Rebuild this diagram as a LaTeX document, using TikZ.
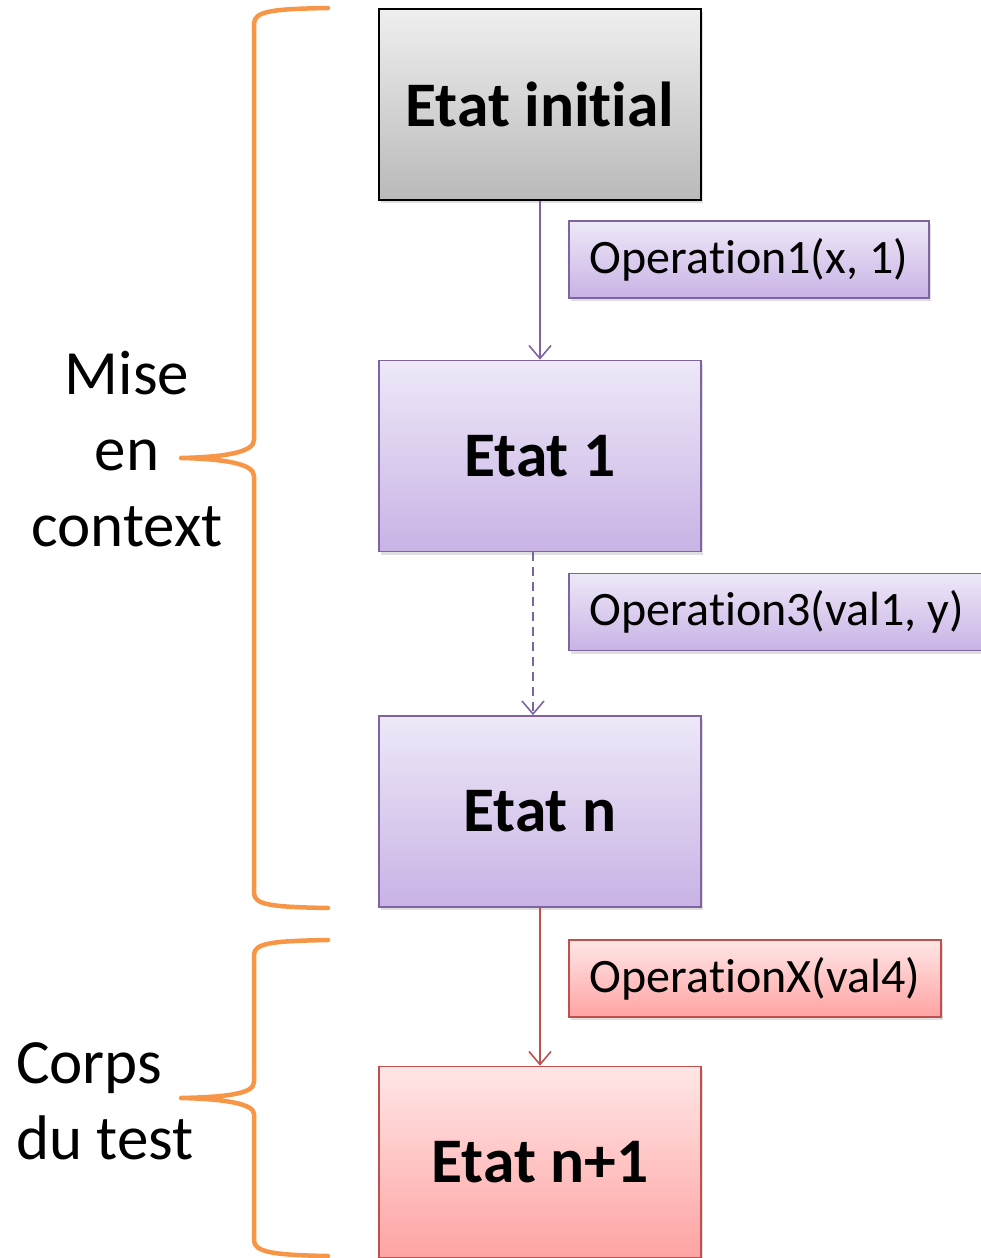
\documentclass[tikz,border=0pt]{standalone}
\usepackage{fontspec}
\setmainfont{Carlito}[Ligatures={NoCommon,NoContextual,NoRare},Contextuals={NoAlternate}]
\usetikzlibrary{arrows.meta,shadows}
\definecolor{purpline}{HTML}{8064A2}
\definecolor{purptop}{HTML}{EEE8F8}
\definecolor{purpbot}{HTML}{C8B3E5}
\definecolor{redline}{HTML}{C0504D}
\definecolor{redtop}{HTML}{FFE6E6}
\definecolor{redbot}{HTML}{FFA3A3}
\definecolor{graytop}{HTML}{EFEFEF}
\definecolor{graybot}{HTML}{B9B9B9}
\definecolor{bracecol}{HTML}{F79646}
\tikzset{
  statebox/.style={draw, line width=1.6pt, minimum width=322pt, minimum height=191pt,
    inner sep=0pt, font=\fontsize{63.5}{74}\selectfont\bfseries,
    drop shadow={shadow xshift=2pt, shadow yshift=-3pt, opacity=0.25}},
  opbox/.style={draw, line width=1.6pt, minimum height=77pt, inner xsep=21pt, inner ysep=0pt,
    anchor=west, font=\fontsize{48}{57}\selectfont,
    drop shadow={shadow xshift=2pt, shadow yshift=-3pt, opacity=0.25}},
  graystyle/.style={top color=graytop, bottom color=graybot, draw=black},
  purpstyle/.style={top color=purptop, bottom color=purpbot, draw=purpline},
  redstyle/.style={top color=redtop, bottom color=redbot, draw=redline},
  flow/.style={line width=1.6pt, -{Straight Barb[length=13pt,width=22pt,line width=1.6pt]}},
  bracestyle/.style={draw=bracecol, line width=4.5pt, line cap=round, line join=round},
  sidelabel/.style={font=\fontsize{63}{76}\selectfont, inner sep=0pt}
}
\begin{document}
\begin{tikzpicture}[x=1pt,y=-1pt]
\useasboundingbox (0,0) rectangle (981,1258);

% state boxes
\node[statebox, graystyle] (init) at (540,104.5) {Etat initial};
\node[statebox, purpstyle] (e1) at (540,456) {Etat 1};
\node[statebox, purpstyle] (en) at (540,811.5) {Etat n};
\node[statebox, redstyle] (en1) at (540,1162) {Etat n+1};

% operation boxes
\node[opbox, purpstyle] (op1) at (568,259.5) {Operation1(x, 1)};
\node[opbox, purpstyle] (op3) at (568,612) {Operation3(val1, y)};
\node[opbox, redstyle] (opx) at (568,978.5) {OperationX(val4)};

% connectors
\draw[flow, purpline] (init.south) -- (e1.north);
\draw[flow, purpline, dash pattern=on 9pt off 6pt] ([xshift=-7pt]e1.south) -- ([xshift=-7pt]en.north);
\draw[flow, redline] (en.south) -- (en1.north);

% braces
\draw[bracestyle] (328,8) .. controls (272,9) and (254,11) .. (254,24)
  -- (254,440) .. controls (254,452) and (226,457) .. (181,458)
  .. controls (226,459) and (254,464) .. (254,476)
  -- (254,893) .. controls (254,905) and (272,907) .. (328,908);
\draw[bracestyle] (328,940) .. controls (272,941) and (254,943) .. (254,955)
  -- (254,1082) .. controls (254,1094) and (226,1097) .. (181,1098)
  .. controls (226,1099) and (254,1104) .. (254,1114)
  -- (254,1240) .. controls (254,1252) and (272,1255) .. (328,1256);

% side labels
\node[sidelabel, align=center] (mise) at (127,449) {Mise\\en\\context};
\node[sidelabel, align=left, anchor=west] (corps) at (16,1101) {Corps\\du test};
\end{tikzpicture}
\end{document}
